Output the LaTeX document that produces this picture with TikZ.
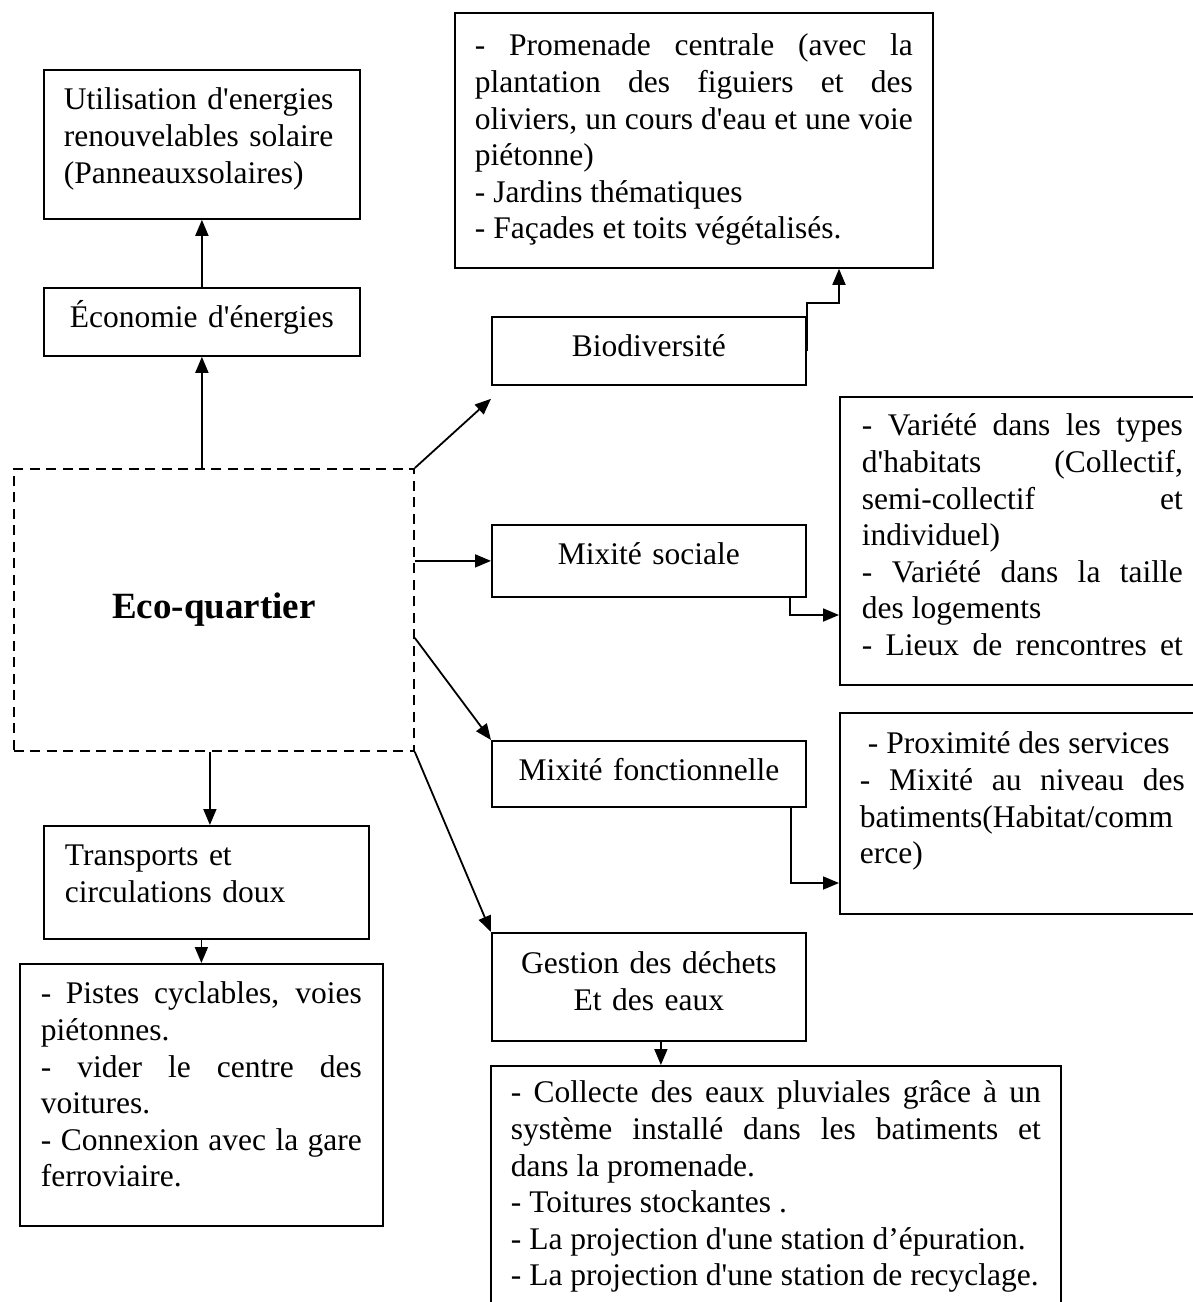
\documentclass[tikz,border=0pt]{standalone}
\usepackage{fontspec}
\setmainfont{Liberation Serif}[Ligatures=TeXOff]
\usetikzlibrary{arrows.meta}
\newcommand\textecadre{\fontsize{31.5}{36.6}\selectfont\hyphenpenalty=10000\exhyphenpenalty=10000}

\begin{document}
\begin{tikzpicture}[x=1pt,y=-1pt,
   lien/.style={-{Triangle[length=16pt,width=13pt]},line width=1.8pt},
   cadre/.style={draw,line width=1.8pt,anchor=north west,inner ysep=0pt,font=\textecadre,text height=40pt},
   quartier/.style={draw,dash pattern=on 10pt off 6.5pt,line width=1.8pt,anchor=north west,inner sep=0pt,
      minimum width=400pt,minimum height=282pt,font=\fontsize{37}{44}\selectfont\bfseries}]

  \useasboundingbox (0,0) rectangle (1193,1302);

  \node[cadre,inner xsep=20pt,text width=276pt,text depth=109pt,align=left](util) at (43,69)
    {Utilisation d'energies\\ renouvelables solaire\\ (Panneauxsolaires)};
  \node[cadre,inner xsep=20pt,text width=276pt,text depth=28pt,align=center](econ) at (43,287) {Économie d'énergies};
  \node[quartier](eco) at (13,468) {Eco-quartier};
  \node[cadre,inner xsep=21pt,text width=283pt,text depth=73pt,align=left](trans) at (43,825)
    {Transports et\\ circulations doux};
  \node[cadre,inner xsep=21pt,text width=321pt,text depth=222pt,align=justify](transdet) at (19,963)
    {- Pistes cyclables, voies\linebreak piétonnes.\\ - vider le centre des\linebreak voitures.\\
     - Connexion avec la gare\linebreak ferroviaire.};

  \node[cadre,inner xsep=20pt,text width=438pt,text height=43pt,text depth=212pt,align=justify](prom) at (454,12)
    {- Promenade centrale (avec la\linebreak plantation des figuiers et des\linebreak
     oliviers, un cours d'eau et une voie\linebreak piétonne)\\ - Jardins thématiques\\
     - Façades et toits végétalisés.};
  \node[cadre,inner xsep=20pt,text width=274pt,text depth=28pt,align=center](bio) at (491,316) {Biodiversité};
  \node[cadre,inner xsep=20pt,text width=274pt,text depth=32pt,align=center](soc) at (491,524) {Mixité sociale};
  \node[cadre,inner xsep=22pt,text width=321pt,text height=39pt,text depth=249pt,align=justify](socdet) at (839,396)
    {- Variété dans les types\linebreak d'habitats (Collectif,\linebreak semi-collectif et\linebreak
     individuel)\\ - Variété dans la taille\linebreak des logements\\ - Lieux de rencontres et\linebreak\mbox{}};
  \node[cadre,inner xsep=15pt,text width=284pt,text depth=26pt,align=center](fonct) at (491,740) {Mixité fonctionnelle};
  \node[cadre,inner xsep=20pt,text width=325pt,text height=41pt,text depth=160pt,align=justify](fonctdet) at (839,712)
    {\hspace*{8pt}- Proximité des services\\ - Mixité au niveau des\linebreak batiments(Habitat/comm\\ erce)};
  \node[cadre,inner xsep=20pt,text width=274pt,text height=41pt,text depth=67pt,align=center](gest) at (491,932)
    {Gestion des déchets\\ Et des eaux};
  \node[cadre,inner xsep=20pt,text width=530pt,text height=37pt,text depth=208pt,align=justify](gestdet) at (490,1065)
    {- Collecte des eaux pluviales grâce à un\linebreak système installé dans les batiments et\linebreak
     dans la promenade.\\ - Toitures stockantes .\\ - La projection d'une station d’épuration.\\
     - La projection d'une station de recyclage.};

  \coordinate (bioknee) at (839,303);
  \coordinate (socknee) at (790,615);
  \coordinate (fonctknee) at (791,883);

  \draw[lien] (econ.south |- eco.north) -- (econ.south);
  \draw[lien] (econ.north) -- (util.south);
  \draw[lien] ([xshift=-4pt]eco.south) -- ([xshift=-4pt]eco.south |- trans.north);
  \draw[lien] (transdet.north |- trans.south) -- (transdet.north);
  \draw[lien] (eco.north east) -- ([yshift=-13pt]bio.south west);
  \draw[lien] (eco.east |- soc.west) -- (soc.west);
  \draw[lien] ([yshift=-28pt]eco.east) -- (fonct.north west);
  \draw[lien] (eco.south east) -- (gest.north west);
  \draw[lien] ([xshift=12pt]gest.south) -- ([xshift=12pt]gest.south |- gestdet.north);
  \draw[lien] (bio.east) |- (bioknee) -- (bioknee |- prom.south);
  \draw[lien] (socknee |- soc.south) |- (socdet.west |- socknee);
  \draw[lien] (fonctknee |- fonct.south) |- (fonctdet.west |- fonctknee);
\end{tikzpicture}
\end{document}
